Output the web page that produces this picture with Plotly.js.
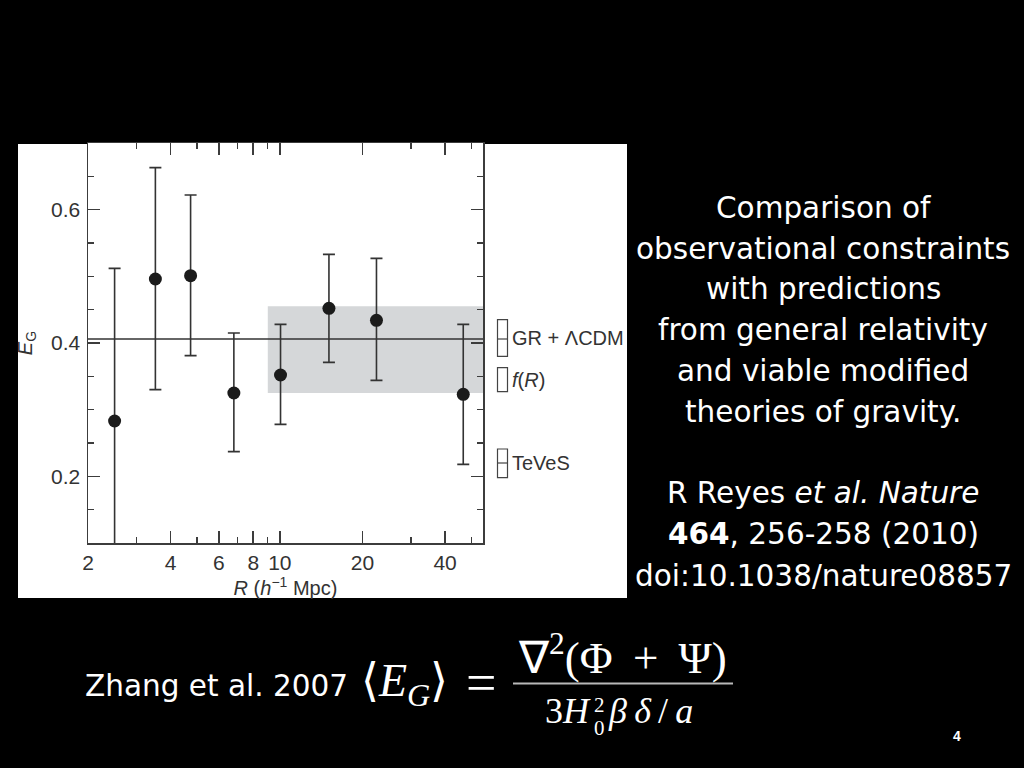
<!DOCTYPE html>
<html>
<head>
<meta charset="utf-8">
<script src="https://cdn.plot.ly/plotly-3.0.1.min.js"></script>
<style>
  html, body { margin: 0; padding: 0; background: #000; }
  #chart { width: 1024px; height: 768px; }
</style>
</head>
<body>
<div id="chart"></div>
<script>
// ---- data ----
const R_values   = [2.5, 3.52, 4.73, 6.80, 10.06, 15.1, 22.5, 46.6];
const EG_values  = [0.283, 0.496, 0.501, 0.325, 0.352, 0.452, 0.434, 0.323];
const EG_high    = [0.512, 0.663, 0.622, 0.415, 0.428, 0.533, 0.527, 0.428];
const EG_low     = [0.054, 0.330, 0.381, 0.237, 0.278, 0.371, 0.344, 0.218];

const band_R     = [9.04, 55];
const band_low   = 0.325;
const band_high  = 0.455;

const gr_line_EG = 0.406;
const R_range    = [2, 55];
const EG_range   = [0.1, 0.7];

const model_names = ['GR + \u039bCDM', '<i>f</i>(<i>R</i>)', 'TeVeS'];
const model_low   = [0.380, 0.327, 0.198];
const model_high  = [0.435, 0.363, 0.241];
const model_mid   = [0.406, null, 0.220];

const x_tickvals  = [2, 4, 6, 8, 10, 20, 40];
const x_ticktext  = ['2', '4', '6', '8', '10', '20', '40'];
const x_minorvals = [3, 5, 7, 9, 30, 50];
const y_tickvals  = [0.2, 0.4, 0.6];
const y_ticktext  = ['0.2', '0.4', '0.6'];
const y_minorvals = [0.15, 0.25, 0.3, 0.35, 0.45, 0.5, 0.55, 0.65];

const caption_lines = ['Comparison of', 'observational constraints', 'with predictions',
                       'from general relativity', 'and viable modified', 'theories of gravity.'];
const reference_lines = ['R Reyes <i>et al. Nature</i>', '<b>464</b>, 256-258 (2010)',
                         'doi:10.1038/nature08857'];

// ---- layout helpers (pixel -> paper) ----
const L = 88, T = 143, W = 395, H = 400;
const px = x => (x - L) / W;
const py = y => (T + H - y) / H;

const axisColor = '#3c3c3c';

const traces = [
  { // shaded band
    x: [band_R[0], band_R[1], band_R[1], band_R[0], band_R[0]],
    y: [band_low, band_low, band_high, band_high, band_low],
    type: 'scatter', mode: 'lines', fill: 'toself',
    fillcolor: '#d5d7d9', line: { width: 0, color: 'rgba(0,0,0,0)' },
    hoverinfo: 'skip', showlegend: false
  },
  { // GR + LCDM line
    x: R_range, y: [gr_line_EG, gr_line_EG],
    type: 'scatter', mode: 'lines',
    line: { color: '#333', width: 1.5 }, showlegend: false
  },
  { // measurements
    x: R_values, y: EG_values,
    type: 'scatter', mode: 'markers',
    marker: { size: 13, color: '#1b1b1b' },
    error_y: {
      type: 'data', symmetric: false,
      array: EG_high.map((h, i) => h - EG_values[i]),
      arrayminus: EG_values.map((v, i) => v - EG_low[i]),
      color: '#333', thickness: 1.6, width: 6
    },
    showlegend: false
  }
];

const shapes = [
  { // white figure panel
    type: 'rect', xref: 'paper', yref: 'paper', layer: 'below',
    x0: px(18), x1: px(627), y0: py(598), y1: py(144),
    fillcolor: '#ffffff', line: { width: 0 }
  },
  { // fraction bar of the formula
    type: 'line', xref: 'paper', yref: 'paper',
    x0: px(513), x1: px(733), y0: py(683.5), y1: py(683.5),
    line: { color: '#b8b8b8', width: 2 }
  }
];

// prediction boxes beside the plot
model_names.forEach((n, i) => {
  shapes.push({
    type: 'rect', xref: 'paper', yref: 'y',
    x0: px(497.5), x1: px(507.5), y0: model_low[i], y1: model_high[i],
    line: { color: '#444', width: 1.2 }, fillcolor: 'rgba(0,0,0,0)'
  });
  if (model_mid[i] !== null) {
    shapes.push({
      type: 'line', xref: 'paper', yref: 'y',
      x0: px(497.5), x1: px(507.5), y0: model_mid[i], y1: model_mid[i],
      line: { color: '#444', width: 1.2 }
    });
  }
});

const annotations = [];
model_names.forEach((n, i) => {
  annotations.push({
    text: n, xref: 'paper', yref: 'y', x: px(510), y: (model_low[i] + model_high[i]) / 2,
    xanchor: 'left', yanchor: 'middle', showarrow: false,
    font: { family: 'Liberation Sans', size: 20, color: '#333' }
  });
});

const slideFont = { family: 'DejaVu Sans', size: 29.5, color: '#ffffff' };
caption_lines.forEach((t, i) => {
  annotations.push({ text: t, xref: 'paper', yref: 'paper', x: px(823), y: py(208 + 40.7 * i),
    xanchor: 'center', yanchor: 'middle', showarrow: false, font: slideFont });
});
reference_lines.forEach((t, i) => {
  annotations.push({ text: t, xref: 'paper', yref: 'paper', x: px(823), y: py(493 + 41.3 * i),
    xanchor: 'center', yanchor: 'middle', showarrow: false, font: slideFont });
});

annotations.push({ text: 'Zhang et al. 2007', xref: 'paper', yref: 'paper', x: px(83), y: py(686),
  xanchor: 'left', yanchor: 'middle', showarrow: false, font: slideFont });

const serif = (s) => ({ family: 'Liberation Serif', size: s, color: '#ffffff' });
const sp = '\u2009';
annotations.push(
  { text: '\u27e8<i>E</i><sub><i>G</i></sub>\u27e9', xref: 'paper', yref: 'paper', x: px(404), y: py(684),
    xanchor: 'center', yanchor: 'middle', showarrow: false, font: serif(46) },
  { text: '=', xref: 'paper', yref: 'paper', x: px(481), y: py(683),
    xanchor: 'center', yanchor: 'middle', showarrow: false, font: serif(54) },
  { text: '\u2207<sup>2</sup>(\u03a6' + sp + ' + ' + sp + '\u03a8)', xref: 'paper', yref: 'paper',
    x: px(622), y: py(654),
    xanchor: 'center', yanchor: 'middle', showarrow: false, font: serif(45) },
  { text: '3<i>H</i>', xref: 'paper', yref: 'paper', x: px(593), y: py(711),
    xanchor: 'right', yanchor: 'middle', showarrow: false, font: serif(36) },
  { text: '2', xref: 'paper', yref: 'paper', x: px(592), y: py(705),
    xanchor: 'left', yanchor: 'middle', showarrow: false, font: serif(21) },
  { text: '0', xref: 'paper', yref: 'paper', x: px(592), y: py(728),
    xanchor: 'left', yanchor: 'middle', showarrow: false, font: serif(21) },
  { text: '<i>\u03b2' + sp + '\u03b4</i>' + sp + '/' + sp + '<i>a</i>', xref: 'paper', yref: 'paper',
    x: px(606), y: py(711),
    xanchor: 'left', yanchor: 'middle', showarrow: false, font: serif(36) },
  { text: '<b>4</b>', xref: 'paper', yref: 'paper', x: px(957), y: py(736),
    xanchor: 'center', yanchor: 'middle', showarrow: false,
    font: { family: 'Liberation Sans', size: 14, color: '#ffffff' } }
);

const layout = {
  width: 1024, height: 768,
  margin: { l: L, r: 1024 - L - W, t: T, b: 768 - T - H, pad: 0 },
  paper_bgcolor: '#000000', plot_bgcolor: '#ffffff',
  font: { family: 'Liberation Sans', size: 19, color: '#333' },
  showlegend: false,
  xaxis: {
    type: 'log', range: [Math.log10(R_range[0]), Math.log10(R_range[1])],
    tickmode: 'array', tickvals: x_tickvals, ticktext: x_ticktext,
    ticks: 'inside', ticklen: 12, tickwidth: 1.5, tickcolor: axisColor,
    showline: true, linecolor: axisColor, linewidth: 1.5, mirror: 'allticks',
    showgrid: false, zeroline: false,
    tickfont: { family: 'Liberation Sans', size: 21, color: '#333' },
    minor: { tickmode: 'array', tickvals: x_minorvals, ticks: 'inside', ticklen: 6,
             tickwidth: 1.5, tickcolor: axisColor, showgrid: false },
    title: { text: '<i>R</i> (<i>h</i><sup>\u22121</sup> Mpc)', standoff: 4,
             font: { family: 'Liberation Sans', size: 20, color: '#333' } }
  },
  yaxis: {
    range: EG_range,
    tickmode: 'array', tickvals: y_tickvals, ticktext: y_ticktext,
    ticks: 'inside', ticklen: 12, tickwidth: 1.5, tickcolor: axisColor,
    showline: true, linecolor: axisColor, linewidth: 1.5, mirror: 'allticks',
    showgrid: false, zeroline: false, ticklabelstandoff: 2,
    tickfont: { family: 'Liberation Sans', size: 21, color: '#333' },
    minor: { tickmode: 'array', tickvals: y_minorvals, ticks: 'inside', ticklen: 6,
             tickwidth: 1.5, tickcolor: axisColor, showgrid: false },
    title: { text: '<i>E</i><sub>G</sub>', standoff: 13,
             font: { family: 'Liberation Sans', size: 20, color: '#333' } }
  },
  shapes: shapes,
  annotations: annotations
};

Plotly.newPlot('chart', traces, layout, { staticPlot: true, displayModeBar: false });
</script>
</body>
</html>
